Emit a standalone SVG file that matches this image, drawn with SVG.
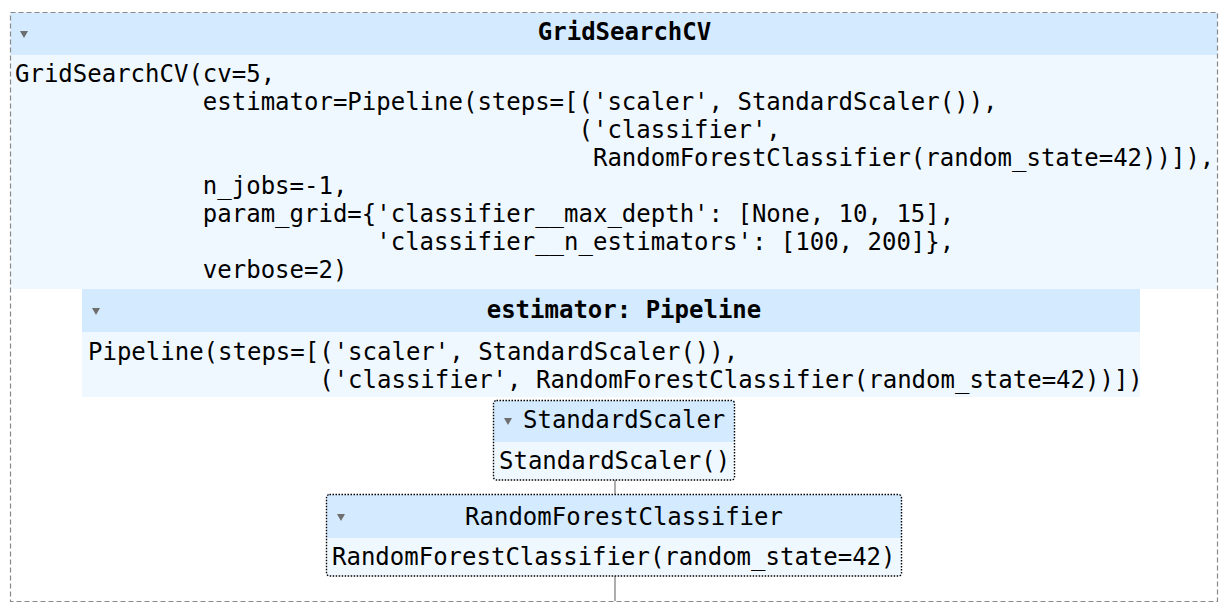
<svg xmlns="http://www.w3.org/2000/svg" width="1230" height="612" viewBox="0 0 1230 612">
<style>
.mono{font-family:"DejaVu Sans Mono","Liberation Mono",monospace;font-size:24px;fill:#000;white-space:pre}
.bold{font-weight:bold}
.hdr{fill:#d4ebff}
.body{fill:#f0f8ff}
.tri{fill:#6e6e6e}
.dot{fill:none;stroke:#000;stroke-width:1.4;stroke-dasharray:1.5 1.5}
.conn{stroke:#777;stroke-width:1.2;fill:none}
</style>
<rect x="0" y="0" width="1230" height="612" fill="#fff"/>
<g id="gridsearchcv">
<rect class="hdr" x="10.5" y="12.5" width="1207" height="42.5"/>
<rect class="body" x="10.5" y="55" width="1207" height="234"/>
<rect x="10.5" y="12.5" width="1207" height="589" fill="none" stroke="#888" stroke-width="1.2" stroke-dasharray="5 3"/>
<polygon class="tri" points="20,31 28,31 24,38"/>
<text class="mono bold" x="624.5" y="40" text-anchor="middle">GridSearchCV</text>
<text class="mono" x="15" y="82">GridSearchCV(cv=5,</text>
<text class="mono" x="15" y="110">             estimator=Pipeline(steps=[('scaler', StandardScaler()),</text>
<text class="mono" x="15" y="138">                                       ('classifier',</text>
<text class="mono" x="15" y="166">                                        RandomForestClassifier(random_state=42))]),</text>
<text class="mono" x="15" y="194">             n_jobs=-1,</text>
<text class="mono" x="15" y="222">             param_grid={'classifier__max_depth': [None, 10, 15],</text>
<text class="mono" x="15" y="250">                         'classifier__n_estimators': [100, 200]},</text>
<text class="mono" x="15" y="278">             verbose=2)</text>
</g>
<g id="connectors">
<line class="conn" x1="615" y1="480" x2="615" y2="494"/>
<line class="conn" x1="615" y1="576" x2="615" y2="601"/>
</g>
<g id="pipeline">
<rect class="hdr" x="82" y="289" width="1058" height="43"/>
<rect class="body" x="82" y="332" width="1058" height="65"/>
<polygon class="tri" points="92,308 100,308 96,315"/>
<text class="mono bold" x="624" y="318" text-anchor="middle">estimator: Pipeline</text>
<text class="mono" x="88" y="360">Pipeline(steps=[('scaler', StandardScaler()),</text>
<text class="mono" x="88" y="388">                ('classifier', RandomForestClassifier(random_state=42))])</text>
</g>
<g id="standardscaler">
<rect class="hdr" x="493.5" y="400.5" width="241" height="41.5"/>
<rect class="body" x="493.5" y="442" width="241" height="38"/>
<rect class="dot" x="493.5" y="400.5" width="241" height="79.5" rx="3"/>
<polygon class="tri" points="504,418 512,418 508,425"/>
<text class="mono" x="523" y="428">StandardScaler</text>
<text class="mono" x="499" y="469">StandardScaler()</text>
</g>
<g id="randomforest">
<rect class="hdr" x="326.5" y="494.5" width="575" height="43.5"/>
<rect class="body" x="326.5" y="538" width="575" height="38"/>
<rect class="dot" x="326.5" y="494.5" width="575" height="81.5" rx="3"/>
<polygon class="tri" points="337,514 345,514 341,521"/>
<text class="mono" x="624" y="525" text-anchor="middle">RandomForestClassifier</text>
<text class="mono" x="332" y="565">RandomForestClassifier(random_state=42)</text>
</g>
</svg>
